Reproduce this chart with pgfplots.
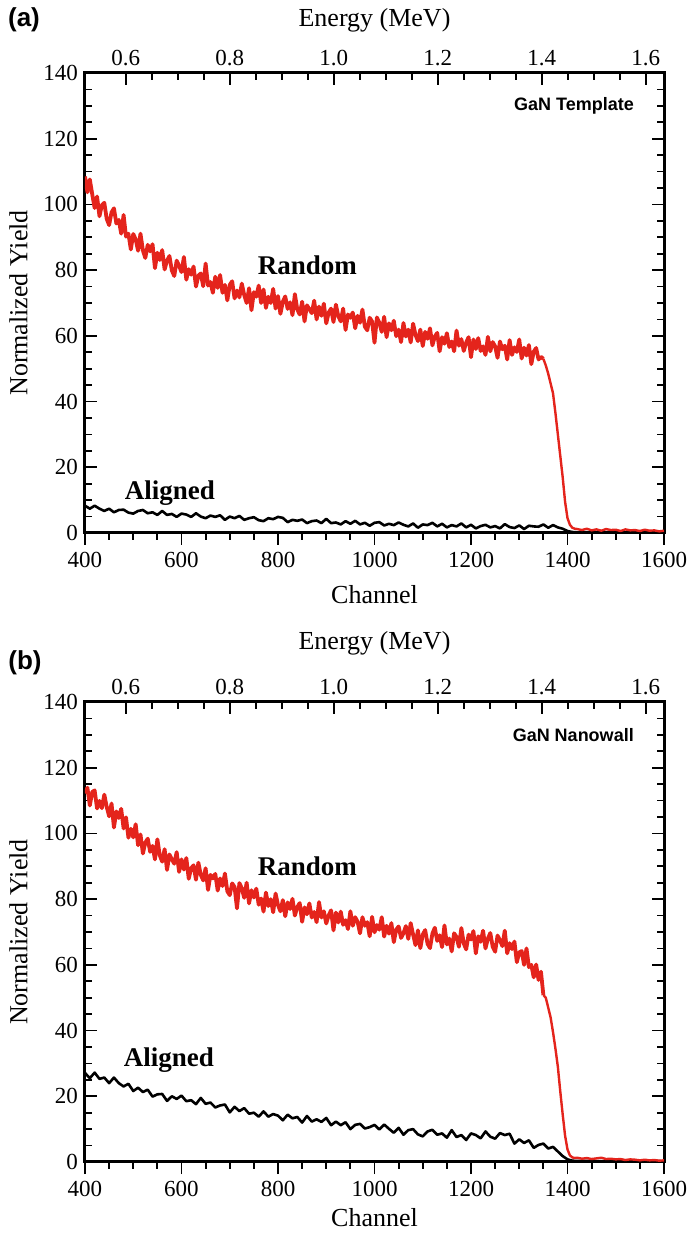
\documentclass[border=0pt]{standalone}
\usepackage{fontspec}
\setmainfont{Liberation Serif}
\newfontfamily\arialfont{Liberation Sans}
\usepackage{pgfplots}
\pgfplotsset{compat=1.18}
\definecolor{myred}{RGB}{228,36,28}

\pgfplotsset{
  rbsbase/.style={
    scale only axis, width=289.5pt, height=230pt,
    ymin=0, ymax=140,
    axis line style={line width=1.5pt},
    every tick/.style={black, line width=0.9pt},
    major tick length=6pt, minor tick length=3.5pt,
    /pgf/number format/assume math mode=true,
    /pgf/number format/1000 sep={},
    ticklabel style={font=\fontsize{11.5}{13}\selectfont},
    label style={font=\fontsize{13}{15}\selectfont},
  },
  mainax/.style={
    rbsbase, xmin=400, xmax=1600,
    xtick={400,600,...,1600}, minor x tick num=3,
    ytick={0,20,...,140}, minor y tick num=3,
    xtick pos=left, ytick pos=both,
    xtick align=outside, ytick align=inside,
    xlabel={Channel}, ylabel={Normalized Yield},
    ylabel style={yshift=1pt},
  },
  topax/.style={
    rbsbase, xmin=0.5216, xmax=1.6353,
    axis x line*=top, hide y axis,
    xtick={0.6,0.8,1.0,1.2,1.4,1.6},
    xticklabels={0.6,0.8,1.0,1.2,1.4,1.6},
    minor x tick num=3, xtick align=inside,
    xlabel={Energy (MeV)},
  },
  redband/.style={myred, line width=1.9pt, line join=round},
  redline/.style={myred, line width=1.2pt, line join=round},
  blkline/.style={black, line width=1.3pt, line join=round},
}

\begin{document}
\begin{tikzpicture}
\useasboundingbox (0,0) rectangle (344pt,618pt);

% ---------------- panel (a) ----------------
\begin{axis}[mainax, at={(42.5pt,351.5pt)}, anchor=south west, xlabel style={yshift=-2pt}]
\addplot[blkline] coordinates {
(400,8.3)(410,7.4)(420,8.3)(430,7.4)(440,6.7)(450,7.4)(460,6.3)(470,7.0)(480,7.1)(490,6.2)
(500,5.9)(510,6.7)(520,7.0)(530,6.0)(540,6.3)(550,5.5)(560,6.7)(570,5.5)(580,5.8)(590,4.9)
(600,5.9)(610,5.6)(620,4.9)(630,6.0)(640,5.0)(650,4.5)(660,5.3)(670,4.9)(680,5.4)(690,4.0)
(700,5.0)(710,4.5)(720,5.2)(730,4.0)(740,4.5)(750,4.8)(760,3.9)(770,3.6)(780,4.5)(790,4.2)
(800,4.9)(810,4.6)(820,3.3)(830,4.0)(840,3.7)(850,4.1)(860,3.0)(870,3.6)(880,3.8)(890,3.0)
(900,4.3)(910,3.0)(920,3.2)(930,2.6)(940,3.6)(950,2.8)(960,3.7)(970,2.6)(980,3.1)(990,2.2)
(1000,3.1)(1010,3.3)(1020,2.3)(1030,2.8)(1040,2.4)(1050,3.2)(1060,2.5)(1070,2.0)(1080,2.9)(1090,1.6)
(1100,2.6)(1110,2.4)(1120,3.1)(1130,2.0)(1140,2.8)(1150,1.7)(1160,2.4)(1170,2.0)(1180,2.9)(1190,1.7)
(1200,2.5)(1210,1.4)(1220,2.1)(1230,2.5)(1240,1.7)(1250,2.1)(1260,1.4)(1270,2.7)(1280,1.8)(1290,1.5)
(1300,2.3)(1310,1.2)(1320,2.2)(1330,2.0)(1340,1.9)(1350,2.6)(1360,1.6)(1370,2.4)(1380,1.7)(1390,1.3)
(1400,0.6)(1410,0.3)(1420,0.2)(1450,0.3)(1500,0.2)(1550,0.3)(1600,0.2)
};
\addplot[redband] coordinates {
(400,108.5)(405,103.7)(410,107.6)(415,103.1)(420,98.9)(425,102.4)(430,96.4)(435,99.8)(440,100.5)(445,95.6)
(450,93.7)(455,97.6)(460,98.8)(465,94.2)(470,95.3)(475,91.1)(480,96.8)(485,90.2)(490,91.1)(495,86.3)
(500,91.0)(505,89.4)(510,85.9)(515,91.1)(520,86.0)(525,83.7)(530,87.7)(535,85.7)(540,87.9)(545,80.6)
(550,85.3)(555,83.1)(560,86.1)(565,80.2)(570,82.9)(575,84.3)(580,79.9)(585,78.2)(590,82.9)(595,81.3)
(600,79.4)(605,84.0)(610,77.1)(615,80.3)(620,78.6)(625,81.1)(630,75.0)(635,78.3)(640,79.0)(645,75.1)
(650,82.0)(655,75.3)(660,76.4)(665,73.1)(670,78.0)(675,74.6)(680,78.5)(685,73.1)(690,75.5)(695,70.8)
(700,75.5)(705,76.6)(710,71.4)(715,73.8)(720,71.7)(725,75.9)(730,72.4)(735,70.0)(740,74.5)(745,67.8)
(750,73.3)(755,71.9)(760,75.3)(765,70.0)(770,74.1)(775,68.5)(780,71.9)(785,70.0)(790,74.3)(795,68.3)
(800,72.1)(805,66.7)(810,70.4)(815,72.0)(820,68.2)(825,70.2)(830,66.3)(835,72.7)(840,68.0)(845,66.5)
(850,70.4)(855,64.4)(860,69.3)(865,68.1)(870,66.9)(875,70.7)(880,65.0)(885,68.9)(890,66.1)(895,69.8)
(900,63.8)(905,67.1)(910,68.3)(915,64.2)(920,69.5)(925,66.0)(930,64.4)(935,68.3)(940,61.8)(945,66.5)
(950,65.5)(955,67.1)(960,62.3)(965,66.1)(970,64.0)(975,68.0)(980,62.8)(985,61.7)(990,65.5)(995,64.4)
(1000,57.9)(1005,65.6)(1010,64.0)(1015,61.2)(1020,65.8)(1025,59.6)(1030,63.8)(1035,61.7)(1040,64.6)(1045,59.9)
(1050,61.9)(1055,58.1)(1060,63.9)(1065,59.8)(1070,61.9)(1075,58.0)(1080,63.7)(1085,60.3)(1090,58.4)(1095,61.9)
(1100,56.9)(1105,61.2)(1110,59.1)(1115,62.3)(1120,57.1)(1125,59.8)(1130,60.9)(1135,55.3)(1140,59.6)(1145,57.6)
(1150,60.8)(1155,56.6)(1160,58.3)(1165,55.3)(1170,61.6)(1175,57.0)(1180,59.0)(1185,55.4)(1190,58.0)(1195,59.6)
(1200,53.5)(1205,58.9)(1210,56.0)(1215,59.3)(1220,55.4)(1225,56.8)(1230,54.2)(1235,59.7)(1240,55.3)(1245,58.1)
(1250,56.8)(1255,53.3)(1260,58.3)(1265,55.9)(1270,57.0)(1275,52.8)(1280,58.7)(1285,54.2)(1290,56.5)(1295,55.1)
(1300,58.9)(1305,53.1)(1310,56.4)(1315,54.0)(1320,57.2)(1325,51.4)(1330,55.2)(1335,56.3)(1340,52.8)(1345,53.6)
(1350,53.0)
};
\addplot[redline] coordinates {
(1350,53.0)(1355,51.0)(1360,48.5)(1365,45.5)(1370,42.5)(1375,36.5)(1380,30.0)(1385,23.5)(1390,17.0)(1395,9.5)
(1400,4.5)(1405,2.5)(1410,1.6)(1415,1.3)(1420,1.2)(1430,0.9)(1440,1.3)(1450,0.8)(1460,1.1)(1470,0.7)
(1480,1.2)(1490,0.9)(1500,1.0)(1510,0.6)(1520,1.1)(1530,0.8)(1540,0.9)(1550,0.6)(1560,1.0)(1570,0.7)
(1580,0.8)(1590,0.5)(1600,0.7)
};
\node[font=\bfseries\fontsize{13.5}{15}\selectfont] at (axis cs:861,81.5) {Random};
\node[font=\bfseries\fontsize{13.5}{15}\selectfont] at (axis cs:576,12.2) {Aligned};
\node[font=\arialfont\bfseries\fontsize{9}{11}\selectfont, anchor=east] at (axis cs:1552,130) {GaN Template};
\end{axis}
\begin{axis}[topax, at={(42.5pt,351.5pt)}, anchor=south west, xlabel style={yshift=2pt}]
\end{axis}

% ---------------- panel (b) ----------------
\begin{axis}[mainax, at={(42.5pt,37pt)}, anchor=south west, xlabel style={yshift=1pt}]
\addplot[blkline] coordinates {
(400,27.1)(410,25.5)(420,27.2)(430,25.3)(440,25.7)(450,24.0)(460,25.7)(470,24.0)(480,23.0)(490,23.8)
(500,21.6)(510,22.6)(520,21.3)(530,22.0)(540,19.9)(550,20.6)(560,20.7)(570,18.6)(580,20.0)(590,19.2)
(600,20.2)(610,18.5)(620,18.8)(630,17.6)(640,19.5)(650,17.7)(660,18.1)(670,16.6)(680,17.2)(690,17.5)
(700,15.1)(710,16.8)(720,15.5)(730,16.4)(740,14.7)(750,15.0)(760,13.8)(770,15.4)(780,13.8)(790,14.6)
(800,14.1)(810,12.7)(820,14.4)(830,13.3)(840,13.7)(850,12.0)(860,14.0)(870,12.3)(880,13.0)(890,12.2)
(900,13.4)(910,11.2)(920,12.3)(930,11.2)(940,12.1)(950,10.0)(960,11.3)(970,11.6)(980,10.2)(990,10.6)
(1000,11.3)(1010,9.9)(1020,11.4)(1030,10.1)(1040,8.9)(1050,10.4)(1060,8.3)(1070,9.7)(1080,10.0)(1090,8.4)
(1100,7.8)(1110,9.3)(1120,9.8)(1130,8.3)(1140,8.7)(1150,7.4)(1160,9.7)(1170,7.6)(1180,8.2)(1190,6.7)
(1200,8.7)(1210,8.2)(1220,7.2)(1230,9.3)(1240,7.7)(1250,7.1)(1260,8.8)(1270,8.2)(1280,8.6)(1290,5.6)
(1300,6.9)(1310,5.8)(1320,6.6)(1330,4.3)(1340,5.2)(1350,5.6)(1360,4.1)(1370,4.6)(1380,3.2)(1390,1.8)
(1400,0.8)(1410,0.4)(1420,0.3)(1450,0.3)(1500,0.2)(1550,0.3)(1600,0.2)
};
\addplot[redband] coordinates {
(400,112.2)(405,113.9)(410,108.5)(415,112.6)(420,113.1)(425,107.6)(430,109.9)(435,107.7)(440,111.8)(445,108.1)
(450,105.2)(455,109.1)(460,101.8)(465,106.7)(470,104.7)(475,107.5)(480,101.5)(485,104.9)(490,98.7)(495,101.4)
(500,98.8)(505,102.8)(510,96.4)(515,99.7)(520,93.9)(525,97.2)(530,98.4)(535,94.4)(540,96.2)(545,92.1)
(550,98.2)(555,93.3)(560,91.4)(565,95.2)(570,88.9)(575,93.6)(580,92.1)(585,90.8)(590,94.3)(595,88.3)
(600,92.1)(605,89.0)(610,92.5)(615,86.2)(620,89.4)(625,90.3)(630,85.9)(635,91.1)(640,87.4)(645,85.7)
(650,89.4)(655,82.8)(660,87.4)(665,86.3)(670,87.7)(675,82.6)(680,86.3)(685,84.0)(690,87.8)(695,82.4)
(700,81.2)(705,84.8)(710,83.7)(715,77.2)(720,84.9)(725,83.3)(730,80.4)(735,85.0)(740,78.7)(745,82.7)
(750,80.5)(755,83.2)(760,78.3)(765,80.2)(770,76.2)(775,82.0)(780,77.9)(785,80.0)(790,76.0)(795,81.7)
(800,78.2)(805,76.3)(810,79.7)(815,74.8)(820,79.0)(825,77.0)(830,80.1)(835,75.0)(840,77.6)(845,78.8)
(850,73.1)(855,77.5)(860,75.4)(865,78.7)(870,74.4)(875,76.1)(880,73.0)(885,79.1)(890,74.4)(895,76.3)
(900,72.6)(905,75.1)(910,76.6)(915,70.5)(920,75.9)(925,72.9)(930,76.2)(935,72.2)(940,73.6)(945,70.9)
(950,76.3)(955,71.9)(960,74.5)(965,73.1)(970,69.6)(975,74.5)(980,71.9)(985,73.0)(990,68.7)(995,74.6)
(1000,69.9)(1005,72.1)(1010,70.7)(1015,74.5)(1020,68.6)(1025,71.9)(1030,69.5)(1035,72.7)(1040,66.9)(1045,70.7)
(1050,71.7)(1055,68.2)(1060,69.6)(1065,71.8)(1070,67.9)(1075,72.7)(1080,69.2)(1085,66.0)(1090,70.5)(1095,65.1)
(1100,69.2)(1105,70.6)(1110,66.4)(1115,65.1)(1120,69.5)(1125,71.3)(1130,67.3)(1135,69.0)(1140,65.4)(1145,72.0)
(1150,66.2)(1155,68.0)(1160,64.1)(1165,69.6)(1170,68.5)(1175,65.5)(1180,71.2)(1185,66.5)(1190,64.7)(1195,69.2)
(1200,67.7)(1205,70.3)(1210,63.5)(1215,68.7)(1220,67.0)(1225,70.4)(1230,65.0)(1235,68.0)(1240,69.7)(1245,65.5)
(1250,64.0)(1255,68.9)(1260,67.5)(1265,65.7)(1270,70.4)(1275,63.5)(1280,66.6)(1285,64.8)(1290,67.1)(1295,60.8)
(1300,63.8)(1305,64.2)(1310,60.0)(1315,65.0)(1320,59.3)(1325,60.0)(1330,56.2)(1335,60.1)(1340,55.4)(1345,57.9)
(1350,50.8)
};
\addplot[redline] coordinates {
(1350,50.8)(1355,50.0)(1360,47.0)(1365,44.0)(1370,39.5)(1375,34.5)(1380,29.0)(1385,21.5)(1390,14.5)(1395,8.0)
(1400,3.8)(1405,2.0)(1410,1.4)(1415,1.2)(1420,1.3)(1430,1.0)(1440,1.2)(1450,0.9)(1460,1.1)(1470,1.3)
(1480,0.9)(1490,1.0)(1500,0.8)(1510,0.9)(1520,0.6)(1530,0.8)(1540,0.7)(1550,0.5)(1560,0.7)(1570,0.5)
(1580,0.6)(1590,0.4)(1600,0.5)
};
\node[font=\bfseries\fontsize{13.5}{15}\selectfont] at (axis cs:861,90) {Random};
\node[font=\bfseries\fontsize{13.5}{15}\selectfont] at (axis cs:574,31) {Aligned};
\node[font=\arialfont\bfseries\fontsize{9}{11}\selectfont, anchor=east] at (axis cs:1552,130) {GaN Nanowall};
\end{axis}
\begin{axis}[topax, at={(42.5pt,37pt)}, anchor=south west, xlabel style={yshift=5pt}]
\end{axis}

\node[font=\arialfont\bfseries\fontsize{13}{15}\selectfont] at (12pt,608pt) {(a)};
\node[font=\arialfont\bfseries\fontsize{13}{15}\selectfont] at (12.5pt,286.5pt) {(b)};
\end{tikzpicture}
\end{document}
